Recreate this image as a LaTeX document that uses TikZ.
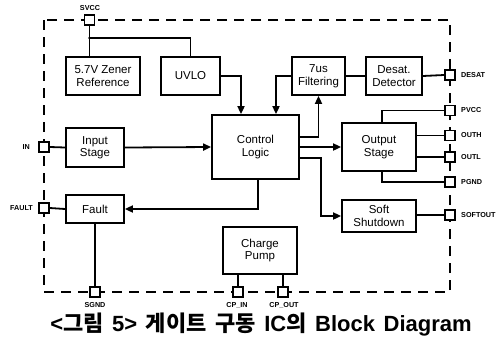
\documentclass[tikz,border=0pt]{standalone}
\usepackage{fontspec}
\setmainfont{Liberation Sans}
\newfontfamily\cjk{Noto Sans CJK KR}
\usetikzlibrary{arrows.meta}
\tikzset{
  blk/.style={draw,line width=1.8pt,fill=white,align=center,inner sep=1pt,
    font=\fontsize{11.5}{12.5}\selectfont},
  pin/.style={draw,line width=1.8pt,fill=white,minimum size=10pt,inner sep=0pt},
  plab/.style={font=\fontsize{7.2}{8}\selectfont\bfseries,inner sep=0pt},
  wire/.style={line width=1.8pt},
  thin wire/.style={line width=1.3pt},
  arr/.style={line width=1.8pt,-{Triangle[length=8pt,width=7pt]}},
  border/.style={line width=2.4pt,dash pattern=on 10pt off 7pt}
}
\begin{document}
\begin{tikzpicture}[x=1pt,y=-1pt]
\useasboundingbox (0,0) rectangle (497,338);
\draw[border] (44,20) rectangle (450,292);
% blocks
\node[blk,minimum width=74pt,minimum height=38pt] (zener) at (103,76) {5.7V Zener\\Reference};
\node[blk,minimum width=59pt,minimum height=38pt] (uvlo) at (190.5,76) {UVLO};
\node[blk,minimum width=53pt,minimum height=38pt] (filt) at (318.5,76) {7us\\Filtering};
\node[blk,minimum width=56pt,minimum height=38pt] (desat) at (394,76) {Desat.\\Detector};
\node[blk,minimum width=87pt,minimum height=64pt] (ctrl) at (255.5,147) {Control\\Logic};
\node[blk,minimum width=58pt,minimum height=39pt] (input) at (95,147.5) {Input\\Stage};
\node[blk,minimum width=74pt,minimum height=48pt] (out) at (379,147) {Output\\Stage};
\node[blk,minimum width=74pt,minimum height=32pt] (soft) at (379,216) {Soft\\Shutdown};
\node[blk,minimum width=58pt,minimum height=28pt] (fault) at (95,209) {Fault};
\node[blk,minimum width=74pt,minimum height=47pt] (pump) at (260,250.5) {Charge\\Pump};
% pins
\node[pin] (svcc) at (89.5,20) {};
\node[pin] (desatp) at (450,75) {};
\node[pin] (pvcc) at (450,110.5) {};
\node[pin] (outh) at (450,135.5) {};
\node[pin] (outl) at (450,157) {};
\node[pin] (pgnd) at (450,182) {};
\node[pin] (softp) at (450,215) {};
\node[pin] (inp) at (44,147) {};
\node[pin] (faultp) at (44,208) {};
\node[pin] (sgnd) at (95,292) {};
\node[pin] (cpin) at (238,292) {};
\node[pin] (cpout) at (283,292) {};
% pin labels
\node[plab] at (90,8) {SVCC};
\node[plab,anchor=west] at (461,75) {DESAT};
\node[plab,anchor=west] at (461,110.5) {PVCC};
\node[plab,anchor=west] at (461,135.5) {OUTH};
\node[plab,anchor=west] at (461,157) {OUTL};
\node[plab,anchor=west] at (461,182) {PGND};
\node[plab,anchor=west] at (461,215) {SOFTOUT};
\node[plab,anchor=east] at (30,147) {IN};
\node[plab,anchor=east] at (33,208) {FAULT};
\node[plab] at (95,305) {SGND};
\node[plab] at (237,305) {CP\_IN};
\node[plab] at (284,305) {CP\_OUT};
% connectors
\coordinate (jn) at (89.5,38);
\draw[wire] (svcc.south) -- (svcc.south |- zener.north);
\draw[thin wire] (jn) -| (uvlo.north);
\fill (jn) circle (1.3pt);
\draw[arr] (uvlo.east) -| ([xshift=-14.5pt]ctrl.north);
\draw[arr] (filt.west) -| ([xshift=20.5pt]ctrl.north);
\draw[wire] (filt.east) -- (desat.west);
\draw[wire] (desat.east) -- (desatp.west);
\draw[arr] ([yshift=10pt]ctrl.east) -| (filt.south);
\draw[arr] (ctrl.east) -- (out.west);
\draw[arr] ([yshift=-11pt]ctrl.east) -- ++(21pt,0) |- (soft.west);
\draw[arr] ([xshift=2.5pt]ctrl.south) |- (fault.east);
\draw[wire] (inp.east) -- (input.west);
\draw[arr] (input.east) -- (ctrl.west);
\draw[wire] (faultp.east) -- (fault.west);
\draw[wire] (fault.south) -- (sgnd.north);
\draw[thin wire] ([xshift=3pt]out.north) |- (pvcc.west);
\draw[wire] (out.east |- outh) -- (outh.west);
\draw[wire] (out.east |- outl) -- (outl.west);
\draw[thin wire] ([xshift=3pt]out.south) |- (pgnd.west);
\draw[wire] (soft.east |- softp) -- (softp.west);
\draw[wire] (pump.south -| cpin) -- (cpin.north);
\draw[wire] (pump.south -| cpout) -- (cpout.north);
% caption
\node[font=\bfseries\fontsize{22}{24}\selectfont,inner sep=0pt,anchor=base] (cap) at (261,331)
  {\spaceskip=8.6pt <{\cjk\bfseries 그림} 5> {\cjk\bfseries 게이트} {\cjk\bfseries 구동} IC{\cjk\bfseries 의} Block Diagram};
\end{tikzpicture}
\end{document}
